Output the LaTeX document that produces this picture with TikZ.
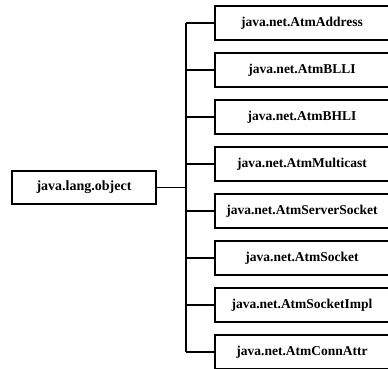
\documentclass[tikz,border=0pt]{standalone}
\usepackage{fontspec}
\setmainfont{Liberation Serif}
\begin{document}
\begin{tikzpicture}[x=1pt,y=-1pt,
  leaf/.style={draw, line width=1.7pt, minimum width=174pt, minimum height=34pt, inner sep=0pt,
    font=\fontsize{13.5}{15}\selectfont\bfseries},
  root/.style={draw, line width=1.7pt, minimum width=144pt, minimum height=33pt, inner sep=0pt,
    font=\fontsize{14}{16}\selectfont\bfseries},
  link/.style={line width=1.7pt}]
\useasboundingbox (0,0) rectangle (388,369);
\clip (0,0) rectangle (388,369);
\fill[white] (0,0) rectangle (388,369);
\coordinate (T) at (186,0);
\node[root] (L) at (84,187.5) {java.lang.object};
\foreach \i/\t in {1/java.net.AtmAddress,2/java.net.AtmBLLI,3/java.net.AtmBHLI,4/java.net.AtmMulticast,
  5/java.net.AtmServerSocket,6/java.net.AtmSocket,7/java.net.AtmSocketImpl,8/java.net.AtmConnAttr}{
  \node[leaf] (b\i) at (302,{23+47*(\i-1)}) {\t};
  \draw[link] (b\i.west) -- (b\i.west -| T);
}
\draw[link] (b1.west -| T) -- (b8.west -| T);
\draw[link] (L.east) -- (L.east -| T);
\end{tikzpicture}
\end{document}
